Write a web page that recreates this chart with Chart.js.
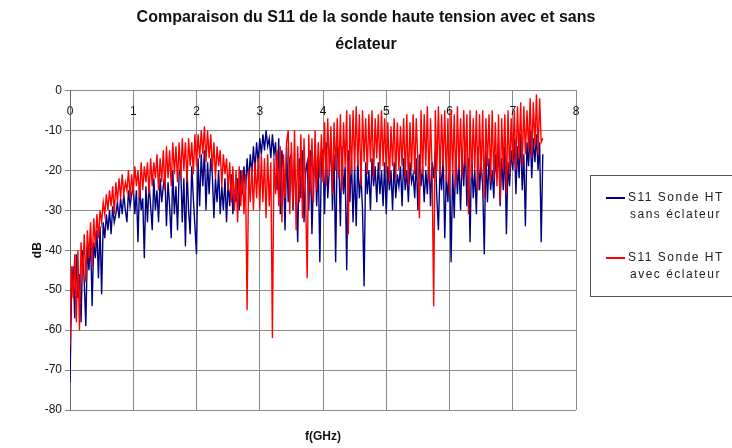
<!DOCTYPE html>
<html lang="fr">

<head>
    <meta charset="UTF-8">
    <title>S11 sonde haute tension</title>
    <script src="https://cdn.jsdelivr.net/npm/chart.js"></script>
    <style>
        body {
            margin: 0;
            background-color: #ffffff;
        }

        canvas {
            display: block;
        }
    </style>
</head>

<body>
    <canvas id="s11Chart" width="732" height="448"></canvas>

    <script>
        // balayage du VNA : un point tous les 25 MHz à partir de 0 GHz
        const FREQ_STEP = 0.025;

        const labelSans = ['S11 Sonde HT', 'sans éclateur'];
        const labelAvec = ['S11 Sonde HT', 'avec éclateur'];
        const xTitle = 'f(GHz)';

        // S11 (dB) relevé sans éclateur, une ligne = 250 MHz
        const sansEclateur = [
            -73, -50, -44, -57, -41, -52, -46, -58, -40, -48,
            -59, -39, -45, -37, -54, -38, -42, -35, -47, -34,
            -51, -33, -37, -31, -35, -30, -36, -29, -33, -31,
            -28, -32, -27, -31, -26, -30, -33, -25, -29, -26,
            -24, -31, -25, -38, -23, -30, -27, -42, -24, -33,
            -23, -29, -35, -22, -30, -25, -33, -22, -28, -24,
            -21, -34, -23, -29, -37, -20, -31, -24, -35, -21,
            -19, -33, -22, -39, -20, -30, -36, -19, -27, -34,
            -41, -17, -29, -16, -24, -15, -30, -18, -26, -17,
            -21, -32, -22, -28, -20, -31, -24, -30, -22, -33,
            -23, -29, -21, -31, -25, -28, -22, -30, -20, -26,
            -19, -25, -17, -23, -16, -21, -14, -20, -13, -18,
            -12, -16, -11, -15, -10, -14, -12, -17, -11, -16,
            -13, -25, -12, -31, -15, -20, -35, -14, -28, -17,
            -16, -30, -19, -24, -38, -17, -27, -15, -33, -20,
            -18, -30, -15, -36, -22, -14, -29, -17, -43, -16,
            -15, -31, -13, -27, -20, -12, -30, -16, -43, -14,
            -17, -34, -14, -26, -19, -45, -15, -28, -17, -33,
            -19, -34, -17, -27, -21, -30, -49, -18, -26, -20,
            -30, -17, -24, -19, -28, -18, -26, -20, -29, -18,
            -31, -19, -25, -20, -30, -18, -27, -21, -24, -19,
            -29, -17, -25, -20, -28, -18, -23, -21, -27, -17,
            -30, -16, -24, -19, -28, -20, -26, -16, -29, -18,
            -22, -15, -27, -35, -19, -25, -16, -37, -21, -28,
            -17, -43, -20, -32, -15, -26, -18, -30, -16, -24,
            -13, -29, -17, -38, -15, -27, -20, -31, -14, -25,
            -18, -24, -41, -15, -28, -17, -25, -20, -27, -16,
            -22, -13, -29, -17, -25, -14, -36, -18, -24, -15,
            -20, -12, -26, -14, -22, -11, -25, -16, -34, -13,
            -19, -10, -22, -12, -18, -11, -20, -13, -38, -16
        ];

        // S11 (dB) relevé avec éclateur, une ligne = 250 MHz
        const avecEclateur = [
            -64, -44, -52, -41, -58, -40, -60, -38, -47, -36,
            -48, -35, -42, -33, -44, -32, -39, -31, -37, -30,
            -33, -28, -31, -26, -30, -25, -29, -24, -31, -23,
            -28, -22, -27, -21, -26, -23, -25, -20, -27, -21,
            -26, -19, -24, -20, -27, -18, -25, -19, -23, -18,
            -26, -17, -24, -18, -22, -16, -25, -17, -23, -15,
            -25, -14, -22, -15, -24, -13, -21, -14, -23, -13,
            -22, -12, -20, -13, -23, -12, -19, -13, -21, -11,
            -19, -11, -17, -10, -16, -9, -18, -10, -17, -11,
            -20, -13, -22, -14, -19, -15, -24, -16, -21, -17,
            -25, -18, -28, -19, -30, -20, -33, -19, -29, -20,
            -31, -21, -55, -20, -28, -19, -30, -18, -27, -17,
            -30, -16, -28, -17, -32, -16, -29, -18, -62, -17,
            -26, -15, -29, -14, -33, -16, -27, -13, -10, -31,
            -13, -29, -10, -35, -14, -28, -11, -32, -12, -27,
            -47, -11, -26, -12, -28, -10, -25, -13, -22, -11,
            -23, -8, -24, -7, -21, -9, -26, -8, -20, -7,
            -22, -6, -25, -8, -19, -5, -36, -6, -21, -5,
            -20, -4, -19, -6, -24, -5, -18, -7, -21, -6,
            -18, -5, -22, -7, -17, -6, -20, -5, -19, -7,
            -21, -8, -23, -9, -19, -7, -22, -8, -20, -9,
            -19, -7, -22, -6, -24, -8, -20, -6, -21, -7,
            -18, -32, -5, -21, -6, -19, -4, -23, -7, -20,
            -54, -5, -20, -4, -22, -6, -19, -5, -23, -7,
            -26, -5, -21, -6, -24, -4, -20, -7, -22, -5,
            -19, -6, -31, -5, -22, -7, -20, -5, -25, -6,
            -21, -5, -27, -7, -19, -6, -23, -5, -22, -8,
            -24, -6, -28, -7, -20, -6, -26, -5, -21, -7,
            -18, -5, -20, -4, -17, -3, -19, -4, -16, -5,
            -15, -2, -17, -3, -14, -1, -16, -2, -13, -12
        ];

        const toPoints = arr => arr.map((v, i) => ({ x: +(i * FREQ_STEP).toFixed(3), y: v }));

        const FONT = 'Liberation Sans, Arial, sans-serif';
        const GRID = '#8a8a8a';

        // légende encadrée à droite + titre de l'axe des fréquences sous la zone de tracé
        const boxLegend = {
            id: 'boxLegend',
            afterDraw(chart) {
                const ctx = chart.ctx;
                const area = chart.chartArea;
                ctx.save();

                ctx.font = 'bold 12px ' + FONT;
                ctx.fillStyle = '#111';
                ctx.textAlign = 'center';
                ctx.textBaseline = 'middle';
                ctx.fillText(xTitle, (area.left + area.right) / 2, 437);

                ctx.strokeStyle = '#555';
                ctx.lineWidth = 1;
                ctx.strokeRect(590.5, 175.5, 160, 121);

                ctx.font = '12px ' + FONT;
                ctx.letterSpacing = '1.5px';
                ctx.fillStyle = '#222';
                ctx.textAlign = 'left';
                const items = [
                    { ds: chart.data.datasets[1], y: 198 },
                    { ds: chart.data.datasets[0], y: 258 }
                ];
                items.forEach(it => {
                    ctx.strokeStyle = it.ds.borderColor;
                    ctx.lineWidth = 2;
                    ctx.beginPath();
                    ctx.moveTo(606, it.y);
                    ctx.lineTo(625, it.y);
                    ctx.stroke();
                    ctx.fillText(it.ds.label[0], 628, it.y);
                    ctx.fillText(it.ds.label[1], 630, it.y + 17);
                });
                ctx.restore();
            }
        };

        new Chart(document.getElementById('s11Chart'), {
            type: 'line',
            data: {
                datasets: [{
                    label: labelAvec,
                    data: toPoints(avecEclateur),
                    borderColor: '#ff0000',
                    borderWidth: 1.4,
                    pointRadius: 0,
                    fill: false,
                    tension: 0
                }, {
                    label: labelSans,
                    data: toPoints(sansEclateur),
                    borderColor: '#000080',
                    borderWidth: 1.4,
                    pointRadius: 0,
                    fill: false,
                    tension: 0
                }]
            },
            options: {
                responsive: false,
                animation: false,
                layout: {
                    padding: { bottom: 38 }
                },
                plugins: {
                    legend: { display: false },
                    tooltip: { enabled: false },
                    title: {
                        display: true,
                        text: ['Comparaison du S11 de la sonde haute tension avec et sans', 'éclateur'],
                        color: '#111',
                        font: { family: FONT, size: 16, weight: 'bold', lineHeight: 1.7 },
                        padding: { top: 4, bottom: 32 }
                    }
                },
                scales: {
                    x: {
                        type: 'linear',
                        position: { y: 0 },
                        min: 0,
                        max: 8,
                        ticks: {
                            stepSize: 1,
                            color: '#111',
                            font: { family: FONT, size: 12 },
                            padding: 14
                        },
                        grid: { color: GRID, lineWidth: 1, tickLength: 0 },
                        border: { color: GRID }
                    },
                    y: {
                        min: -80,
                        max: 0,
                        afterFit(scale) { scale.width = 70; },
                        ticks: {
                            stepSize: 10,
                            color: '#111',
                            font: { family: FONT, size: 12 },
                            padding: 3
                        },
                        grid: { color: GRID, lineWidth: 1, tickLength: 5 },
                        border: { color: '#666' },
                        title: {
                            display: true,
                            text: 'dB',
                            color: '#111',
                            font: { family: FONT, size: 12, weight: 'bold' },
                            padding: { top: 30, bottom: 0 }
                        }
                    },
                    // axe vide à droite : réserve la place de la légende
                    yRight: {
                        position: 'right',
                        min: -80,
                        max: 0,
                        afterFit(scale) { scale.width = 156; },
                        ticks: { display: false },
                        grid: { display: false },
                        border: { display: false }
                    }
                }
            },
            plugins: [boxLegend]
        });
    </script>
</body>

</html>
